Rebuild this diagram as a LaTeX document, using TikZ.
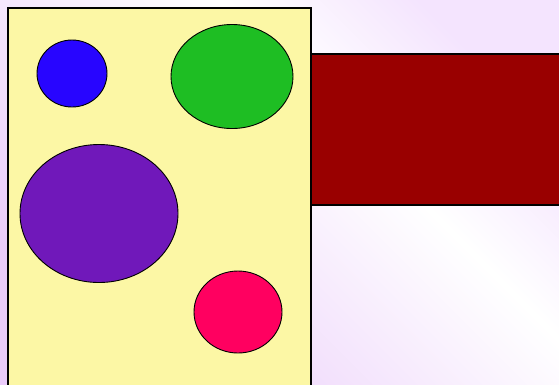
\documentclass[tikz,border=0pt]{standalone}
\usetikzlibrary{shapes.geometric, positioning}
\definecolor{lilac}{RGB}{234,204,250}
\definecolor{lavender}{RGB}{244,228,254}
\definecolor{paleyellow}{RGB}{252,247,165}
\definecolor{darkred}{RGB}{153,0,0}
\definecolor{blueblob}{RGB}{40,5,255}
\definecolor{greenblob}{RGB}{30,190,35}
\definecolor{purpleblob}{RGB}{112,24,186}
\definecolor{pinkblob}{RGB}{255,0,96}
\pgfdeclarehorizontalshading{backdrop}{100bp}{color(0bp)=(lilac); color(25bp)=(lilac);
    color(60bp)=(white); color(75bp)=(lavender); color(100bp)=(lavender)}

\begin{document}
\begin{tikzpicture}[
    x=1pt, y=-1pt,
    panel/.style={draw=black, line width=1.2pt},
    blob/.style={
        ellipse, draw=black, line width=0.9pt,
        inner sep=0pt
    },
]

% background
\shade[shading=backdrop, shading angle=45] (0,0) rectangle (559,384);
\useasboundingbox (0,0) rectangle (559,384);

\fill[paleyellow] (8,8) rectangle (311,390);
\draw[panel] (8,390) -- (8,8) -- (311,8) -- (311,390);

\fill[darkred] (311,54) rectangle (565,205);
\draw[panel] (565,54) -- (311,54) -- (311,205) -- (565,205);

\node[blob, fill=blueblob, minimum width=70pt, minimum height=67pt] (blue) at (72,73.5) {};
\node[blob, fill=greenblob, minimum width=122pt, minimum height=104pt] (green) at (232,76.5) {};
\node[blob, fill=purpleblob, minimum width=158pt, minimum height=138pt] (purple) at (99,213.5) {};
\node[blob, fill=pinkblob, minimum width=88pt, minimum height=82pt] (pink) at (238,312) {};

\end{tikzpicture}
\end{document}
